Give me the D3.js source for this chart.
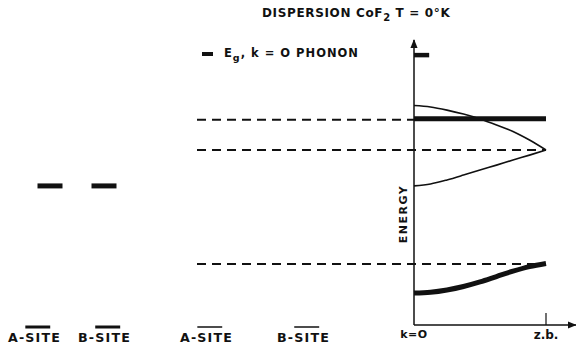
<!DOCTYPE html>
<html>
<head>
<meta charset="utf-8">
<script src="https://cdn.jsdelivr.net/npm/d3@7"></script>
<style>
  html, body { margin: 0; padding: 0; background: #fff; }
  svg { display: block; }
  text { font-family: "DejaVu Sans", sans-serif; fill: #111; font-weight: bold; }
</style>
</head>
<body>
<svg id="chart" width="576" height="350"></svg>
<script>
// Wave-vector grid from k = 0 to the zone boundary (z.b.)
const kGrid = [0, 0.125, 0.25, 0.375, 0.5, 0.625, 0.75, 0.875, 1];
// Dispersion branches (energy, arbitrary units)
const upperBranch    = [7.70, 7.65, 7.54, 7.40, 7.23, 7.02, 6.79, 6.49, 6.14];
const lowerBranch    = [4.88, 4.95, 5.09, 5.26, 5.44, 5.61, 5.79, 5.96, 6.14];
const acousticBranch = [1.12, 1.15, 1.23, 1.35, 1.51, 1.70, 1.89, 2.05, 2.16];
// Flat Eg, k=0 phonon level
const egPhonon = 7.24;
// Dashed reference levels and the k where each one ends
const dashedLevels = [7.20, 6.14, 2.14];
const dashedEndK   = [0, 1, 1];
// Single-site levels
const siteNames  = ["A", "B"];
const siteLevels = [4.88, 4.88];
// Legend sample level
const legendLevel = 9.47;
// Labels
const siteLabels = ["A-SITE", "B-SITE"];
const kLabels = ["k=O", "z.b."];

const svg = d3.select("#chart");

const y = d3.scaleLinear().domain([0, 10]).range([325, 40]);
const xK = d3.scaleLinear().domain([0, 1]).range([414, 546]);
const xSite = d3.scalePoint().domain(siteNames).range([50, 104]);

// arrow markers
const defs = svg.append("defs");
defs.append("marker")
  .attr("id", "arrow").attr("viewBox", "0 0 10 10")
  .attr("refX", 9).attr("refY", 5)
  .attr("markerWidth", 6).attr("markerHeight", 6)
  .attr("orient", "auto")
  .append("path").attr("d", "M0,1 L10,5 L0,9 Z").attr("fill", "#111");

// axes
svg.append("line")
  .attr("x1", xK(0)).attr("x2", xK(0))
  .attr("y1", y(0)).attr("y2", y(10))
  .attr("stroke", "#111").attr("stroke-width", 1.5)
  .attr("marker-end", "url(#arrow)");
svg.append("line")
  .attr("x1", xK(0)).attr("x2", 576)
  .attr("y1", y(0)).attr("y2", y(0))
  .attr("stroke", "#111").attr("stroke-width", 1.5)
  .attr("marker-end", "url(#arrow)");
// zone boundary tick
svg.append("line")
  .attr("x1", xK(1)).attr("x2", xK(1))
  .attr("y1", y(0)).attr("y2", y(0) - 12)
  .attr("stroke", "#111").attr("stroke-width", 1.2);

// dashed levels
svg.selectAll("line.level").data(dashedLevels).join("line")
  .attr("class", "level")
  .attr("x1", 197)
  .attr("x2", (d, i) => xK(dashedEndK[i]))
  .attr("y1", d => y(d)).attr("y2", d => y(d))
  .attr("stroke", "#111").attr("stroke-width", 2)
  .attr("stroke-dasharray", "9 6");

const line = d3.line()
  .x((d, i) => xK(kGrid[i]))
  .y(d => y(d))
  .curve(d3.curveMonotoneX);

// thin optical branches
[upperBranch, lowerBranch].forEach(b => {
  svg.append("path").attr("d", line(b))
    .attr("fill", "none").attr("stroke", "#111").attr("stroke-width", 1.6);
});
// thick Eg flat line
svg.append("line")
  .attr("x1", xK(0)).attr("x2", xK(1))
  .attr("y1", y(egPhonon)).attr("y2", y(egPhonon))
  .attr("stroke", "#111").attr("stroke-width", 5);
// thick acoustic-like branch
svg.append("path").attr("d", line.curve(d3.curveCatmullRom)(acousticBranch))
  .attr("fill", "none").attr("stroke", "#111").attr("stroke-width", 5)
  .attr("stroke-linecap", "butt");

// legend sample on the axis
svg.append("line")
  .attr("x1", xK(0)).attr("x2", xK(0.115))
  .attr("y1", y(legendLevel)).attr("y2", y(legendLevel))
  .attr("stroke", "#111").attr("stroke-width", 4.5);

// site levels
svg.selectAll("line.site").data(siteLevels).join("line")
  .attr("class", "site")
  .attr("x1", (d, i) => xSite(siteNames[i]) - 12.5)
  .attr("x2", (d, i) => xSite(siteNames[i]) + 12.5)
  .attr("y1", d => y(d)).attr("y2", d => y(d))
  .attr("stroke", "#111").attr("stroke-width", 5);

// title
const title = svg.append("text").attr("x", 262).attr("y", 17)
  .attr("font-size", 12).attr("letter-spacing", 0.65);
title.append("tspan").text("DISPERSION CoF");
title.append("tspan").attr("dy", 4).attr("font-size", 10).text("2");
title.append("tspan").attr("dy", -4).text(" T = 0°K");

// legend
svg.append("line").attr("x1", 202).attr("x2", 213)
  .attr("y1", 54).attr("y2", 54)
  .attr("stroke", "#111").attr("stroke-width", 4);
const leg = svg.append("text").attr("x", 224).attr("y", 57)
  .attr("font-size", 11.5).attr("letter-spacing", 1);
leg.append("tspan").text("E");
leg.append("tspan").attr("dy", 3.5).attr("font-size", 9.5).text("g");
leg.append("tspan").attr("dy", -3.5).text(", k = O  PHONON");

// ENERGY axis label
svg.append("text")
  .attr("transform", "translate(407,214) rotate(-90)")
  .attr("text-anchor", "middle")
  .attr("font-size", 11).attr("letter-spacing", 1.5)
  .text("ENERGY");

// k labels
svg.append("text").attr("x", xK(0)).attr("y", 338)
  .attr("text-anchor", "middle").attr("font-size", 11).attr("letter-spacing", 0.5)
  .text(kLabels[0]);
svg.append("text").attr("x", xK(1)).attr("y", 339)
  .attr("text-anchor", "middle").attr("font-size", 12)
  .text(kLabels[1]);

// site labels with overlined "SIT"
function siteLabel(x, label, barWidth) {
  const t = svg.append("text").attr("x", x).attr("y", 342)
    .attr("font-size", 13).attr("letter-spacing", 1.2)
    .attr("textLength", 53).attr("lengthAdjust", "spacingAndGlyphs")
    .text(label);
  const n = t.node();
  const s = n.getStartPositionOfChar(2).x;
  const e = n.getEndPositionOfChar(4).x;
  svg.append("line").attr("x1", s).attr("x2", e - 1)
    .attr("y1", 327).attr("y2", 327)
    .attr("stroke", "#111").attr("stroke-width", barWidth);
}
siteLabel(8, siteLabels[0], 3);
siteLabel(78, siteLabels[1], 3);
siteLabel(180, siteLabels[0], 1.5);
siteLabel(277, siteLabels[1], 1.5);
</script>
</body>
</html>
